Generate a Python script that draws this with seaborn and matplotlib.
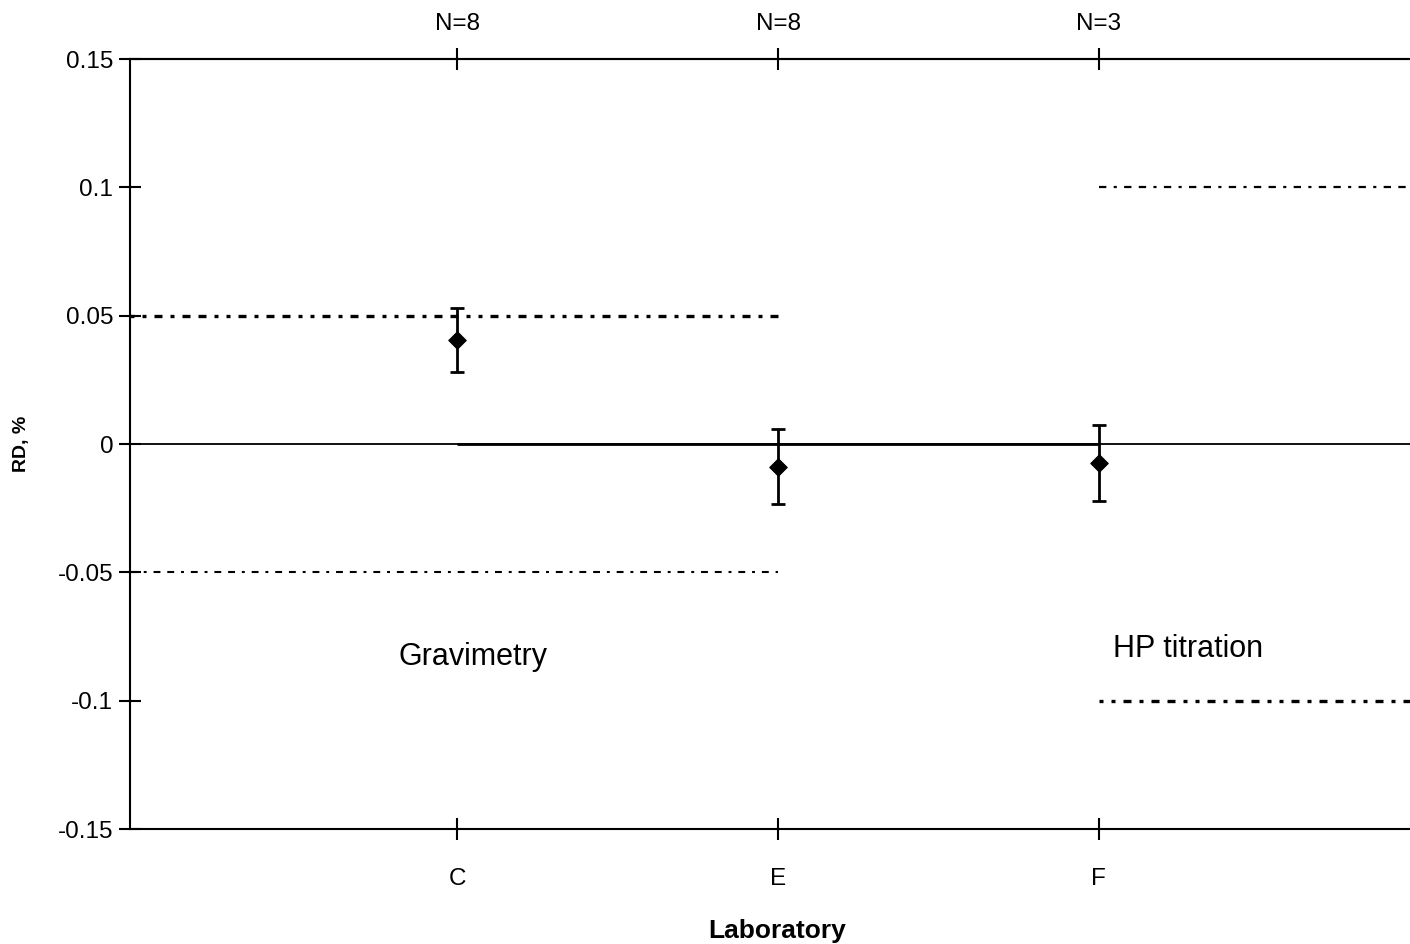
import matplotlib
matplotlib.use("Agg")
import matplotlib.pyplot as plt
import seaborn as sns
import pandas as pd

# Laboratory results: relative deviation (RD, %) with expanded uncertainty
labs = ["C", "E", "F"]
n_counts = ["N=8", "N=8", "N=3"]
rd_values = [0.0405, -0.0088, -0.0074]
rd_uncert = [0.0125, 0.0146, 0.0148]

# Method acceptance limits (RD, %)
grav_limits = [0.05, -0.05]
hp_limits = [0.1, -0.1]

sns.set_theme(style="white")
plt.rcParams["font.family"] = ["Liberation Sans", "DejaVu Sans"]
plt.rcParams["text.color"] = "black"
plt.rcParams["axes.labelcolor"] = "black"

df = pd.DataFrame({"lab": labs, "pos": [1, 2, 3], "rd": rd_values, "u": rd_uncert})

fig = plt.figure(figsize=(14.1, 9.44), dpi=100)
ax = fig.add_axes([0.0922, 0.1218, 0.9078, 0.8157])

# zero reference line, heavier between the first and last laboratory
ax.axhline(0, color="black", lw=1.3, zorder=1)
ax.hlines(0, df["pos"].iloc[0], df["pos"].iloc[-1], color="black", lw=2.0, zorder=1)

# acceptance limits for gravimetry (C, E) and HP titration (F)
heavy = (0, (1.2, 2.4, 1.2, 2.4, 2.4, 2.4, 1.2, 2.4, 2.4, 2.4, 2.4, 2.4))
light = (0, (3.3, 3.3, 1.4, 3.3, 3.3, 3.3, 3.3, 3.3, 1.4, 3.3))
ax.hlines(grav_limits[0], -0.02, 2, color="black", lw=2.4, linestyles=[heavy])
ax.hlines(grav_limits[1], -0.02, 2, color="black", lw=1.5, linestyles=[light])
ax.hlines(hp_limits[0], 3, 3.97, color="black", lw=1.6, linestyles=[light])
ax.hlines(hp_limits[1], 3, 3.97, color="black", lw=2.4, linestyles=[heavy])

# error bars and mean points
ax.errorbar(df["pos"], df["rd"], yerr=df["u"], fmt="none", ecolor="black",
            elinewidth=2.0, capsize=5, capthick=2.0, zorder=3)
sns.scatterplot(data=df, x="pos", y="rd", marker="D", s=80, color="black",
                edgecolor="black", ax=ax, zorder=4, legend=False)

ax.text(1.05, -0.083, "Gravimetry", fontsize=22, ha="center", va="center")
ax.text(3.278, -0.080, "HP titration", fontsize=22, ha="center", va="center")

ax.set_xlim(-0.02, 3.97)
ax.set_ylim(-0.15, 0.15)
ax.set_xticks(df["pos"])
ax.set_xticklabels(labs, fontsize=17.5)
ax.set_yticks([-0.15, -0.1, -0.05, 0, 0.05, 0.1, 0.15])
ax.set_yticklabels(["-0.15", "-0.1", "-0.05", "0", "0.05", "0.1", "0.15"], fontsize=17.5)
ax.tick_params(axis="both", direction="inout", length=16, width=1.5, color="black",
               labelcolor="black", left=True, bottom=True)
ax.tick_params(axis="x", pad=20)
ax.tick_params(axis="y", pad=4)

for side in ["left", "bottom", "top"]:
    ax.spines[side].set_visible(True)
    ax.spines[side].set_color("black")
    ax.spines[side].set_linewidth(1.5)
ax.spines["right"].set_visible(False)

top = ax.secondary_xaxis("top")
top.set_xticks(df["pos"])
top.set_xticklabels(n_counts, fontsize=17.5)
top.tick_params(direction="inout", length=16, width=1.5, color="black",
                labelcolor="black", top=True, pad=9)
top.spines["top"].set_linewidth(1.5)

ax.set_xlabel("Laboratory", fontsize=19, fontweight="bold")
ax.xaxis.set_label_coords(0.5055, -0.117)
ax.set_ylabel("RD, %", fontsize=14, fontweight="bold")
ax.yaxis.set_label_coords(-0.078, 0.5)

fig.savefig("out.png", dpi=100, facecolor="white")
